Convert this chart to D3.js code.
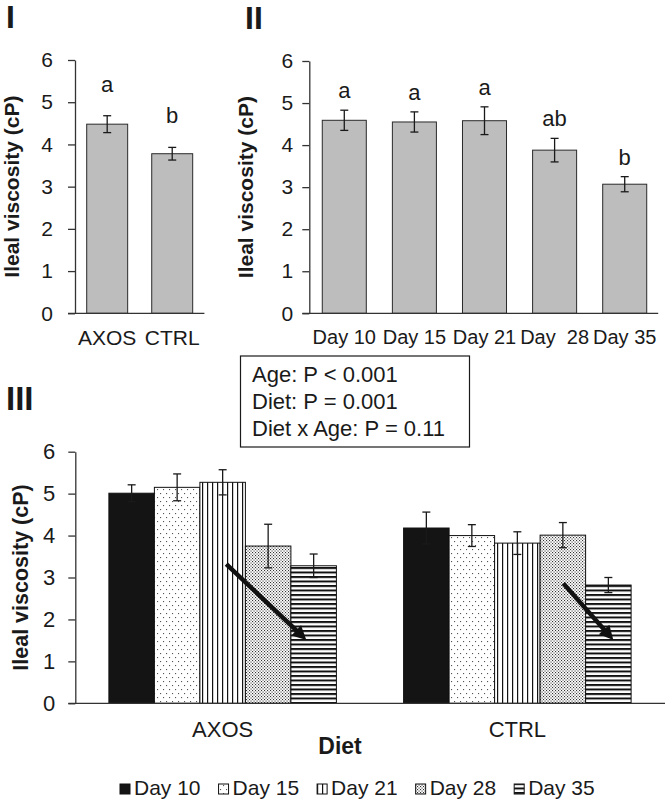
<!DOCTYPE html>
<html>
<head>
<meta charset="utf-8">
<script src="https://cdn.jsdelivr.net/npm/d3@7"></script>
<style>
  html, body { margin: 0; padding: 0; background: #fff; }
  svg { display: block; font-family: "Liberation Sans", Arial, sans-serif; }
  text { fill: #1a1a1a; }
</style>
</head>
<body>
<svg id="chart" width="666" height="807"></svg>
<script>
// ---------- DATA ----------
// Panel I : diet effect
const dietCats   = ["AXOS", "CTRL"];
const dietMeans  = [4.48, 3.78];
const dietErr    = [0.20, 0.15];
const dietLetters = ["a", "b"];

// Panel II : age effect
const ageCats    = ["Day 10", "Day 15", "Day 21", "Day 28", "Day 35"];
const ageTickLabels = ["Day 10", "Day 15", "Day 21", "Day  28", "Day 35"];
const ageMeans   = [4.59, 4.55, 4.58, 3.88, 3.07];
const ageErr     = [0.24, 0.24, 0.33, 0.28, 0.18];
const ageLetters = ["a", "a", "a", "ab", "b"];

// Panel III : diet x age
const groups     = ["AXOS", "CTRL"];
const seriesDays = ["Day 10", "Day 15", "Day 21", "Day 28", "Day 35"];
const axosMeans  = [5.01, 5.15, 5.27, 3.75, 3.28];
const axosErr    = [0.20, 0.32, 0.30, 0.52, 0.28];
const ctrlMeans  = [4.18, 4.00, 3.82, 4.01, 2.82];
const ctrlErr    = [0.38, 0.26, 0.27, 0.30, 0.18];

const yTicks = [0, 1, 2, 3, 4, 5, 6];
const statsLines = ["Age: P < 0.001", "Diet: P = 0.001", "Diet x Age: P = 0.11"];
// trend arrows in data space: [series, fraction across bar, value]
const trendArrows = [
  { group: "AXOS", from: ["Day 21", 0.58, 3.32], to: ["Day 35", 0.34, 1.51] },
  { group: "CTRL", from: ["Day 28", 0.51, 2.86], to: ["Day 35", 0.61, 1.51] }
];

// ---------- SETUP ----------
const svg = d3.select("#chart");
const defs = svg.append("defs");
const ink = "#1a1a1a";

function pat(id, w, h, build) {
  const p = defs.append("pattern").attr("id", id).attr("patternUnits", "userSpaceOnUse")
    .attr("width", w).attr("height", h);
  p.append("rect").attr("width", w).attr("height", h).attr("fill", "#fff");
  build(p);
}
pat("p15", 6, 8, p => {
  p.append("rect").attr("x", 1).attr("y", 1).attr("width", 1.1).attr("height", 1.1).attr("fill", "#555");
  p.append("rect").attr("x", 4).attr("y", 5).attr("width", 1.1).attr("height", 1.1).attr("fill", "#555");
});
pat("p21", 5, 5, p => {
  p.append("rect").attr("x", 2).attr("y", 0).attr("width", 1.2).attr("height", 5).attr("fill", "#111");
});
pat("p28", 3, 3, p => {
  p.append("rect").attr("x", 0).attr("y", 0).attr("width", 1.1).attr("height", 1.1).attr("fill", "#333");
  p.append("rect").attr("x", 1.5).attr("y", 1.5).attr("width", 1.1).attr("height", 1.1).attr("fill", "#333");
});
pat("p35", 4.5, 4.5, p => {
  p.append("rect").attr("x", 0).attr("y", 0).attr("width", 4.5).attr("height", 2).attr("fill", "#111");
});
const fills = ["#141414", "url(#p15)", "url(#p21)", "url(#p28)", "url(#p35)"];

function styleAxis(g, fs) {
  g.selectAll("path.domain").attr("stroke", "#333").attr("stroke-width", 1.3);
  g.selectAll(".tick line").attr("stroke", "#333").attr("stroke-width", 1.3);
  g.selectAll(".tick text").attr("font-size", fs).attr("fill", ink)
    .attr("font-family", '"Liberation Sans", Arial, sans-serif');
}

function errorBars(g, data, cx, y, cap) {
  const e = g.append("g").attr("stroke", ink).attr("stroke-width", 1.3);
  data.forEach(d => {
    const x = cx(d);
    e.append("line").attr("x1", x).attr("x2", x).attr("y1", y(d.v + d.e)).attr("y2", y(d.v - d.e));
    e.append("line").attr("x1", x - cap / 2).attr("x2", x + cap / 2).attr("y1", y(d.v + d.e)).attr("y2", y(d.v + d.e));
    e.append("line").attr("x1", x - cap / 2).attr("x2", x + cap / 2).attr("y1", y(d.v - d.e)).attr("y2", y(d.v - d.e));
  });
}

function yLabel(x, yScale, fs) {
  const yc = (yScale.range()[0] + yScale.range()[1]) / 2;
  svg.append("text").attr("transform", `translate(${x},${yc}) rotate(-90)`)
    .attr("text-anchor", "middle").attr("font-weight", "bold").attr("font-size", fs)
    .text("Ileal viscosity (cP)");
}
const intFmt = d3.format("d");

// ---------- PANEL I ----------
{
  const y = d3.scaleLinear().domain([0, 6]).range([313.3, 60]);
  const x = d3.scaleBand().domain(dietCats).range([75, 204.4]).paddingInner(0.37).paddingOuter(0.18);
  const g = svg.append("g");
  const data = dietCats.map((c, i) => ({ c, v: dietMeans[i], e: dietErr[i], l: dietLetters[i] }));
  g.selectAll("rect").data(data).join("rect")
    .attr("x", d => x(d.c)).attr("width", x.bandwidth())
    .attr("y", d => y(d.v)).attr("height", d => y(0) - y(d.v))
    .attr("fill", "#bdbdbd").attr("stroke", "#2a2a2a").attr("stroke-width", 1);
  errorBars(g, data, d => x(d.c) + x.bandwidth() / 2, y, 8);
  g.selectAll("text.lt").data(data).join("text").attr("class", "lt")
    .attr("x", d => x(d.c) + x.bandwidth() / 2).attr("y", d => y(d.v + d.e) - 24)
    .attr("text-anchor", "middle").attr("font-size", 22).text(d => d.l);
  const ya = svg.append("g").attr("transform", `translate(75,0)`)
    .call(d3.axisLeft(y).tickValues(yTicks).tickFormat(intFmt).tickSize(7).tickSizeOuter(0).tickPadding(15));
  styleAxis(ya, 21);
  svg.append("line").attr("x1", 75 - 7).attr("x2", x.range()[1]).attr("y1", y(0)).attr("y2", y(0))
    .attr("stroke", "#333").attr("stroke-width", 1.3);
  const xa = svg.append("g").attr("transform", `translate(0,${y(0)})`)
    .call(d3.axisBottom(x).tickSize(0).tickPadding(16.5));
  xa.select("path.domain").remove();
  styleAxis(xa, 21);
  yLabel(19, y, 21);
  svg.append("text").attr("x", 6).attr("y", 28).attr("font-weight", "bold").attr("font-size", 32).text("I");
}

// ---------- PANEL II ----------
{
  const y = d3.scaleLinear().domain([0, 6]).range([313.3, 61]);
  const x = d3.scaleBand().domain(ageCats).range([309.3, 659.7]).paddingInner(0.372).paddingOuter(0.185);
  const g = svg.append("g");
  const data = ageCats.map((c, i) => ({ c, v: ageMeans[i], e: ageErr[i], l: ageLetters[i] }));
  g.selectAll("rect").data(data).join("rect")
    .attr("x", d => x(d.c)).attr("width", x.bandwidth())
    .attr("y", d => y(d.v)).attr("height", d => y(0) - y(d.v))
    .attr("fill", "#bdbdbd").attr("stroke", "#2a2a2a").attr("stroke-width", 1);
  errorBars(g, data, d => x(d.c) + x.bandwidth() / 2, y, 8);
  g.selectAll("text.lt").data(data).join("text").attr("class", "lt")
    .attr("x", d => x(d.c) + x.bandwidth() / 2).attr("y", d => y(d.v + d.e) - 12)
    .attr("text-anchor", "middle").attr("font-size", 22).text(d => d.l);
  const ya = svg.append("g").attr("transform", `translate(309.3,0)`)
    .call(d3.axisLeft(y).tickValues(yTicks).tickFormat(intFmt).tickSize(7).tickSizeOuter(0).tickPadding(9));
  styleAxis(ya, 21);
  svg.append("line").attr("x1", 309.3 - 7).attr("x2", x.range()[1] - 1.5).attr("y1", y(0)).attr("y2", y(0))
    .attr("stroke", "#333").attr("stroke-width", 1.3);
  const xa = svg.append("g").attr("transform", `translate(0,${y(0)})`)
    .call(d3.axisBottom(x).tickSize(0).tickPadding(17).tickFormat((d, i) => ageTickLabels[i]));
  xa.select("path.domain").remove();
  styleAxis(xa, 20);
  xa.selectAll(".tick text").style("white-space", "pre");
  yLabel(253, y, 21);
  svg.append("text").attr("x", 245).attr("y", 29).attr("font-weight", "bold").attr("font-size", 32).text("II");
}

// ---------- STATS BOX ----------
{
  const g = svg.append("g");
  g.append("rect").attr("x", 240.5).attr("y", 356).attr("width", 229).attr("height", 91)
    .attr("fill", "#fff").attr("stroke", ink).attr("stroke-width", 1.2);
  statsLines.forEach((t, i) => {
    g.append("text").attr("x", 252).attr("y", 382 + i * 27).attr("font-size", 22).text(t);
  });
}

// ---------- PANEL III ----------
{
  const y = d3.scaleLinear().domain([0, 6]).range([703.3, 451.7]);
  const x0 = d3.scaleBand().domain(groups).range([75, 665]).paddingInner(0.228).paddingOuter(0.115);
  const x1 = d3.scaleBand().domain(seriesDays).range([0, x0.bandwidth()]);
  const color = d3.scaleOrdinal().domain(seriesDays).range(fills);
  const meansBy = { AXOS: axosMeans, CTRL: ctrlMeans };
  const errBy = { AXOS: axosErr, CTRL: ctrlErr };
  const data = [];
  groups.forEach(gname => seriesDays.forEach((s, i) => data.push({ g: gname, s, v: meansBy[gname][i], e: errBy[gname][i] })));
  const g = svg.append("g");
  g.selectAll("rect").data(data).join("rect")
    .attr("x", d => x0(d.g) + x1(d.s)).attr("width", x1.bandwidth())
    .attr("y", d => y(d.v)).attr("height", d => y(0) - y(d.v))
    .attr("fill", d => color(d.s)).attr("stroke", "#111").attr("stroke-width", 1);
  errorBars(g, data, d => x0(d.g) + x1(d.s) + x1.bandwidth() / 2, y, 8);

  trendArrows.forEach(a => {
    const px = (s, f) => x0(a.group) + x1(s) + f * x1.bandwidth();
    const xA = px(a.from[0], a.from[1]), yA = y(a.from[2]);
    const xB = px(a.to[0], a.to[1]), yB = y(a.to[2]);
    const ang = Math.atan2(yB - yA, xB - xA);
    const hl = 14, hw = 7;
    const bx = xB - hl * Math.cos(ang), by = yB - hl * Math.sin(ang);
    g.append("line").attr("x1", xA).attr("y1", yA).attr("x2", bx + 2 * Math.cos(ang)).attr("y2", by + 2 * Math.sin(ang))
      .attr("stroke", "#111").attr("stroke-width", 4.5);
    const pts = [[xB, yB],
      [bx + hw * Math.sin(ang), by - hw * Math.cos(ang)],
      [bx - hw * Math.sin(ang), by + hw * Math.cos(ang)]];
    g.append("polygon").attr("points", pts.map(p => p.join(",")).join(" ")).attr("fill", "#111");
  });

  const ya = svg.append("g").attr("transform", `translate(75.3,0)`)
    .call(d3.axisLeft(y).tickValues(yTicks).tickFormat(intFmt).tickSize(7).tickSizeOuter(0).tickPadding(13));
  styleAxis(ya, 22);
  svg.append("line").attr("x1", 75.3 - 7).attr("x2", x0.range()[1]).attr("y1", y(0)).attr("y2", y(0))
    .attr("stroke", "#333").attr("stroke-width", 1.3);
  const xa = svg.append("g").attr("transform", `translate(0,${y(0)})`)
    .call(d3.axisBottom(x0).tickSize(0).tickPadding(18.5));
  xa.select("path.domain").remove();
  styleAxis(xa, 22);
  yLabel(28, y, 21.5);
  svg.append("text").attr("x", 340).attr("y", 754).attr("text-anchor", "middle")
    .attr("font-weight", "bold").attr("font-size", 23).text("Diet");
  svg.append("text").attr("x", 6).attr("y", 410).attr("font-weight", "bold").attr("font-size", 33).text("III");

  const lg = svg.append("g");
  let lx = 120;
  const base = 795;
  seriesDays.forEach(s => {
    lg.append("rect").attr("x", lx).attr("y", base - 11).attr("width", 10).attr("height", 10)
      .attr("fill", color(s)).attr("stroke", "#111").attr("stroke-width", 1);
    const t = lg.append("text").attr("x", lx + 14).attr("y", base).attr("font-size", 21).text(s);
    lx += 14 + t.node().getComputedTextLength() + 18;
  });
}
</script>
</body>
</html>
